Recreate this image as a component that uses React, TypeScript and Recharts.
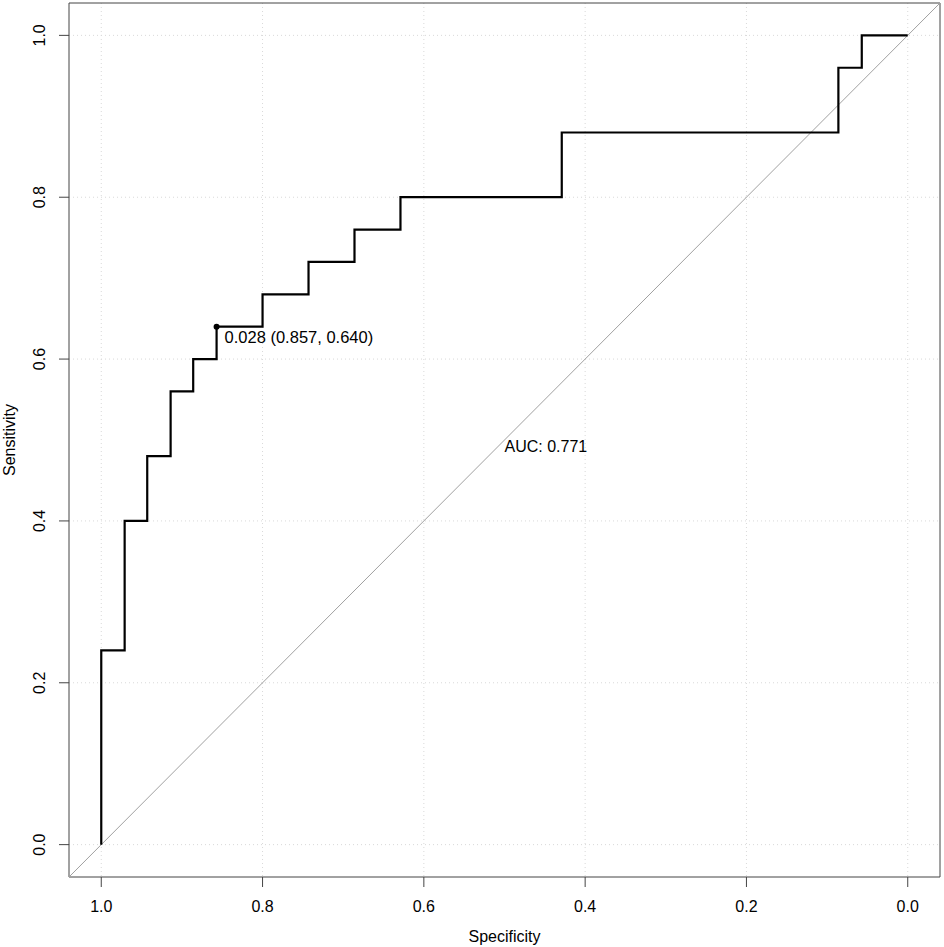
import {
  LineChart,
  Line,
  XAxis,
  YAxis,
  CartesianGrid,
  ReferenceLine,
  ReferenceDot,
  ReferenceArea,
  Label,
} from 'recharts'

// ROC coordinates (step corners), specificity reversed on x
const specificity = [
  1, 1, 0.971, 0.971, 0.943, 0.943, 0.914, 0.914, 0.886, 0.886, 0.857, 0.857,
  0.8, 0.8, 0.743, 0.743, 0.686, 0.686, 0.629, 0.629, 0.429, 0.429, 0.086,
  0.086, 0.057, 0.057, 0,
]
const sensitivity = [
  0, 0.24, 0.24, 0.4, 0.4, 0.48, 0.48, 0.56, 0.56, 0.6, 0.6, 0.64, 0.64, 0.68,
  0.68, 0.72, 0.72, 0.76, 0.76, 0.8, 0.8, 0.88, 0.88, 0.96, 0.96, 1, 1,
]
const ticks = [0, 0.2, 0.4, 0.6, 0.8, 1]
const bestThreshold = { threshold: 0.028, spec: 0.857, sens: 0.64 }
const auc = 0.771

const pad = 0.04
const domain: [number, number] = [-pad, 1 + pad]

const data = specificity.map((s, i) => ({ spec: s, sens: sensitivity[i] }))

const font = '"Liberation Sans", Arial, sans-serif'

const YTick = (props: any) => {
  const { x, y, payload } = props
  const bx = x - 14
  return (
    <text
      x={bx}
      y={y}
      transform={`rotate(-90, ${bx}, ${y})`}
      textAnchor='middle'
      fontSize={16}
      fontFamily={font}
      fill='#000'
    >
      {Number(payload.value).toFixed(1)}
    </text>
  )
}

const XTitle = (props: any) => {
  const { x, y, width } = props.viewBox
  return (
    <text
      x={x + width / 2}
      y={y + 65}
      textAnchor='middle'
      fontSize={16}
      fontFamily={font}
      fill='#000'
    >
      Specificity
    </text>
  )
}

const YTitle = (props: any) => {
  const { y, height } = props.viewBox
  const cy = y + height / 2
  return (
    <text
      x={15}
      y={cy}
      transform={`rotate(-90, 15, ${cy})`}
      textAnchor='middle'
      fontSize={16}
      fontFamily={font}
      fill='#000'
    >
      Sensitivity
    </text>
  )
}

const ThresholdDot = (props: any) => {
  const { cx, cy } = props
  return (
    <g>
      <circle cx={cx} cy={cy} r={3} fill='#000' />
      <text
        x={cx + 8}
        y={cy + 16}
        fontSize={16.5}
        fontFamily={font}
        fill='#000'
      >
        {`${bestThreshold.threshold.toFixed(3)} (${bestThreshold.spec.toFixed(3)}, ${bestThreshold.sens.toFixed(3)})`}
      </text>
    </g>
  )
}

const AucText = (props: any) => {
  const { cx, cy } = props
  return (
    <text x={cx} y={cy + 12} fontSize={16} fontFamily={font} fill='#000'>
      {`AUC: ${auc.toFixed(3)}`}
    </text>
  )
}

export default function App() {
  return (
    <div style={{ position: 'absolute', left: 0, top: 0 }}>
      <LineChart
        width={944}
        height={947}
        data={data}
        margin={{ top: 3, right: 4, left: 0, bottom: 0 }}
      >
        <CartesianGrid
          stroke='#d9d9d9'
          strokeDasharray='1 3'
          horizontalValues={ticks}
          verticalValues={ticks}
        />
        <XAxis
          dataKey='spec'
          type='number'
          domain={domain}
          reversed
          allowDataOverflow
          ticks={ticks}
          tickFormatter={(v: number) => v.toFixed(1)}
          height={70}
          tickSize={10}
          tickMargin={14}
          axisLine={false}
          tickLine={{ stroke: '#444' }}
          tick={{ fontSize: 16, fontFamily: font, fill: '#000' }}
          interval={0}
        >
          <Label content={XTitle} />
        </XAxis>
        <YAxis
          dataKey='sens'
          type='number'
          domain={domain}
          allowDataOverflow
          ticks={ticks}
          width={69}
          tickSize={10}
          tickMargin={0}
          axisLine={false}
          tickLine={{ stroke: '#444' }}
          tick={YTick}
          interval={0}
        >
          <Label content={YTitle} />
        </YAxis>
        <ReferenceLine
          segment={[
            { x: 1 + pad, y: -pad },
            { x: -pad, y: 1 + pad },
          ]}
          stroke='#a0a0a0'
          strokeWidth={1}
          ifOverflow='visible'
        />
        <Line
          type='linear'
          dataKey='sens'
          stroke='#000'
          strokeWidth={2.2}
          dot={false}
          activeDot={false}
          isAnimationActive={false}
        />
        <ReferenceDot
          x={bestThreshold.spec}
          y={bestThreshold.sens}
          r={3}
          shape={ThresholdDot}
          ifOverflow='visible'
        />
        <ReferenceDot x={0.5} y={0.5} r={0} shape={AucText} ifOverflow='visible' />
        <ReferenceArea
          x1={-pad}
          x2={1 + pad}
          y1={-pad}
          y2={1 + pad}
          fill='none'
          stroke='#444'
          strokeWidth={1}
          ifOverflow='visible'
        />
      </LineChart>
    </div>
  )
}
